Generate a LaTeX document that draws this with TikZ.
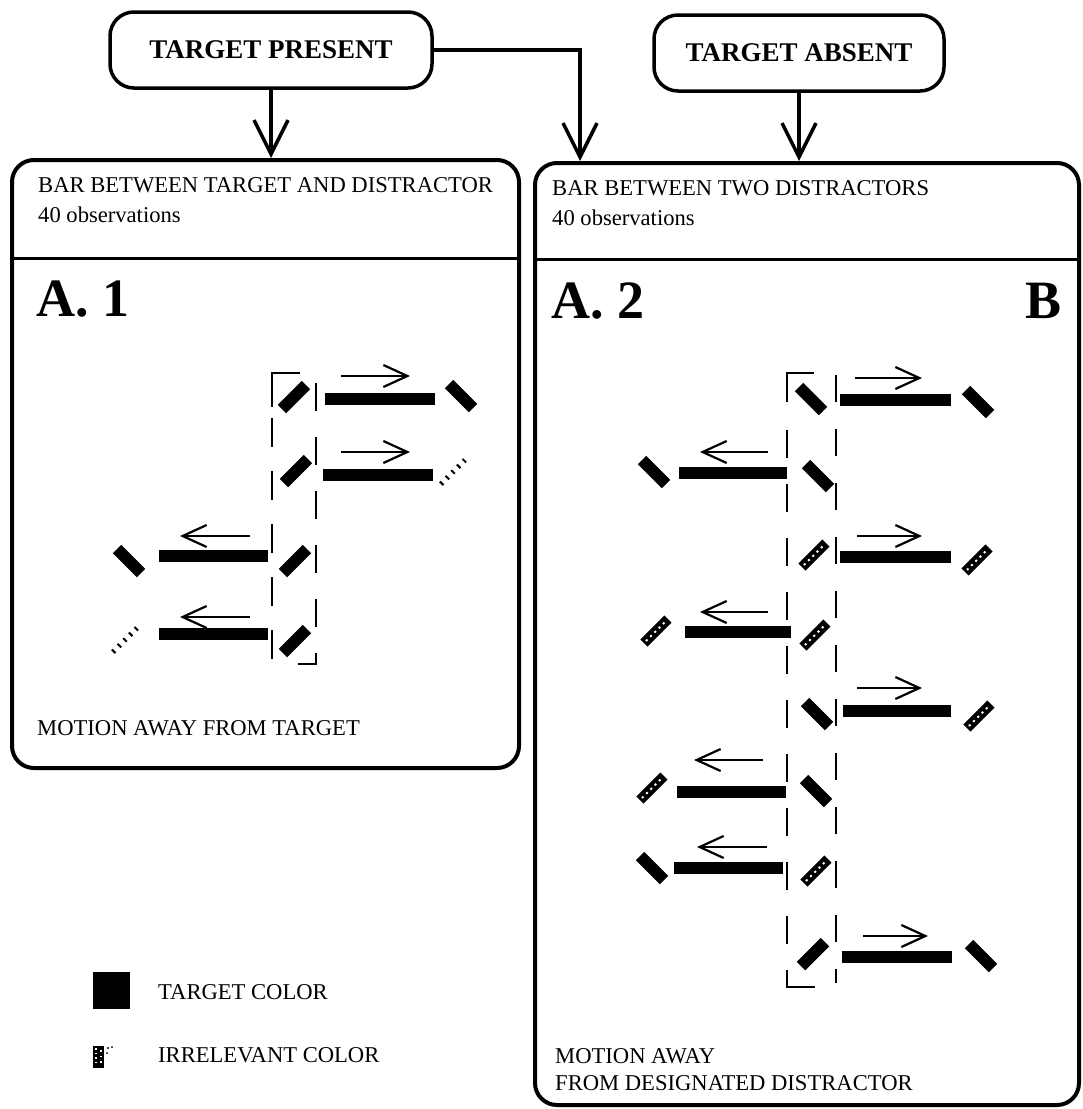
\documentclass[tikz,border=0pt]{standalone}
\usepackage{fontspec}
\setmainfont{Liberation Serif}
\usetikzlibrary{arrows.meta}

\newcommand\bodyfont{\fontsize{22.6}{27}\selectfont}
\newcommand\panelfont{\fontsize{54}{60}\selectfont\bfseries}

% horizontal bar in the target colour: x1, x2, y
\newcommand\rodH[3]{\fill (#1,#3-6) rectangle (#2,#3+6);}
% tilted bars in the target colour: centre x, y
\newcommand\rodUp[2]{\draw[tbar] (#1-12,#2+12) -- (#1+12,#2-12);}
\newcommand\rodDn[2]{\draw[tbar] (#1-12,#2-12) -- (#1+12,#2+12);}
% tilted bar in the irrelevant colour (speckled)
\newcommand\speckUp[2]{\draw[line width=10pt] (#1-12,#2+12) -- (#1+12,#2-12);
  \draw[white,line width=2pt,dash pattern=on 2pt off 4pt] (#1-10,#2+10) -- (#1+10,#2-10);}
% faint speckled bar
\newcommand\fadeUp[2]{\draw[line width=5pt,dash pattern=on 2pt off 6pt] (#1-12,#2+12) -- (#1+12,#2-12);}
% motion arrows: x1, x2, y
\newcommand\goR[3]{\draw[motion] (#1,#3) -- (#2,#3);}
\newcommand\goL[3]{\draw[motion] (#2,#3) -- (#1,#3);}

\begin{document}
\begin{tikzpicture}[x=1pt,y=-1pt,
  toptag/.style={draw,line width=3.5pt,rounded corners=24pt,inner sep=0pt,
    minimum height=76pt,font=\fontsize{27}{30}\selectfont\bfseries},
  panel/.style={draw,line width=4pt,rounded corners=22pt,inner sep=0pt},
  feed/.style={line width=3.5pt,-{Straight Barb[length=34pt,width=34pt,line width=3.5pt]}},
  motion/.style={line width=2.2pt,-{Straight Barb[length=24pt,width=22pt,line width=2.2pt]}},
  gate/.style={line width=2.6pt,dash pattern=on 28pt off 26pt},
  gatecorner/.style={line width=2.6pt},
  tbar/.style={line width=12pt},
  label/.style={anchor=base west,inner sep=0pt,font=\bodyfont},
  panelmark/.style={anchor=base west,inner sep=0pt,font=\panelfont},
]
\useasboundingbox (0,0) rectangle (1083,1109);
\clip (0,0) rectangle (1083,1109);
\fill[white] (0,0) rectangle (1083,1109);

% ---------- condition boxes ----------
\node[toptag,minimum width=322pt] (tp) at (271,50) {TARGET PRESENT};
\node[toptag,minimum width=290pt] (ta) at (799,53) {TARGET ABSENT};

% ---------- panels ----------
\node[panel,minimum width=507pt,minimum height=608pt] (pa) at (265.5,464) {};
\node[panel,minimum width=544pt,minimum height=942pt] (pb) at (807,634) {};
\draw[line width=3pt] (12,258) -- (519,258);
\draw[line width=3pt] (535,259) -- (1079,259);

% ---------- connectors ----------
\coordinate (drop) at (580,48);
\draw[feed] (tp.south) -- (tp.south |- pa.north);
\draw[feed] (tp.east) -| (drop |- pb.north);
\draw[feed] (ta.south) -- (ta.south |- pb.north);

% ---------- panel headings ----------
\node[label] (ha) at (38,192) {BAR BETWEEN TARGET AND DISTRACTOR};
\node[label] (oa) at (38,222) {40 observations};
\node[label] (hb) at (552,195) {BAR BETWEEN TWO DISTRACTORS};
\node[label] (ob) at (552,225) {40 observations};
\node[panelmark] (ma) at (36,316) {A. 1};
\node[panelmark] (mb) at (551,318) {A. 2};
\node[panelmark] (mc) at (1025,318) {B};

% ---------- A.1 : bar between target and distractor ----------
\draw[gatecorner] (300,373) -- (272,373) -- (272,407);
\draw[gate,dash pattern=on 29pt off 24pt] (272,418) -- (272,664);
\draw[gate] (316,383) -- (316,640);
\draw[gatecorner] (316,653) -- (316,664) -- (298,664);

\rodUp{294}{397} \rodH{325}{435}{399} \rodDn{461}{396} \goR{341}{410}{376}
\rodUp{296}{471} \rodH{323}{433}{475} \fadeUp{453}{472} \goR{341}{410}{452}
\rodDn{129}{561} \rodH{159}{268}{556} \rodUp{295}{561} \goL{180}{250}{536}
\fadeUp{125}{640} \rodH{159}{268}{634} \rodUp{295}{641} \goL{180}{250}{617}

\node[label] (ta1) at (37,735) {MOTION AWAY FROM TARGET};

% ---------- A.2 : bar between two distractors ----------
\draw[gatecorner] (814,373) -- (787,373) -- (787,402);
\draw[gate] (787,430) -- (787,944);
\draw[gatecorner] (787,970) -- (787,987) -- (815,987);
\draw[gate,dash pattern=on 27pt off 27pt] (836,375) -- (836,983);

\rodDn{811}{399} \rodH{840}{951}{400} \rodDn{978}{402} \goR{855}{922}{378}
\rodDn{654}{472} \rodH{679}{787}{473} \rodDn{818}{476} \goL{700}{768}{452}
\speckUp{814}{555} \rodH{840}{951}{557} \speckUp{977}{560} \goR{857}{922}{536}
\speckUp{656}{631} \rodH{685}{791}{632} \speckUp{815}{635} \goL{700}{768}{612}
\rodDn{817}{714} \rodH{843}{951}{711} \speckUp{979}{716} \goR{857}{922}{688}
\speckUp{652}{788} \rodH{677}{786}{792} \rodDn{816}{791} \goL{694}{763}{760}
\rodDn{652}{868} \rodH{674}{783}{868} \speckUp{816}{871} \goL{697}{767}{847}
\rodUp{813}{954} \rodH{842}{952}{957} \rodDn{981}{956} \goR{863}{928}{936}

\node[label] (tb1) at (555,1063) {MOTION AWAY};
\node[label] (tb2) at (555,1090) {FROM DESIGNATED DISTRACTOR};

% ---------- legend ----------
\fill (93,972) rectangle (130,1009);
\node[label] (lt) at (158,999) {TARGET COLOR};
\fill (93,1046) rectangle (104,1068);
\draw[white,line width=1.5pt,dash pattern=on 1.5pt off 3pt] (96,1048) -- (96,1066);
\draw[white,line width=1.5pt,dash pattern=on 1.5pt off 4pt] (101,1050) -- (101,1066);
\fill (108,1048) circle (1.2pt) (112,1047) circle (1pt) (107,1053) circle (1pt);
\node[label] (li) at (158,1062) {IRRELEVANT COLOR};
\end{tikzpicture}
\end{document}
